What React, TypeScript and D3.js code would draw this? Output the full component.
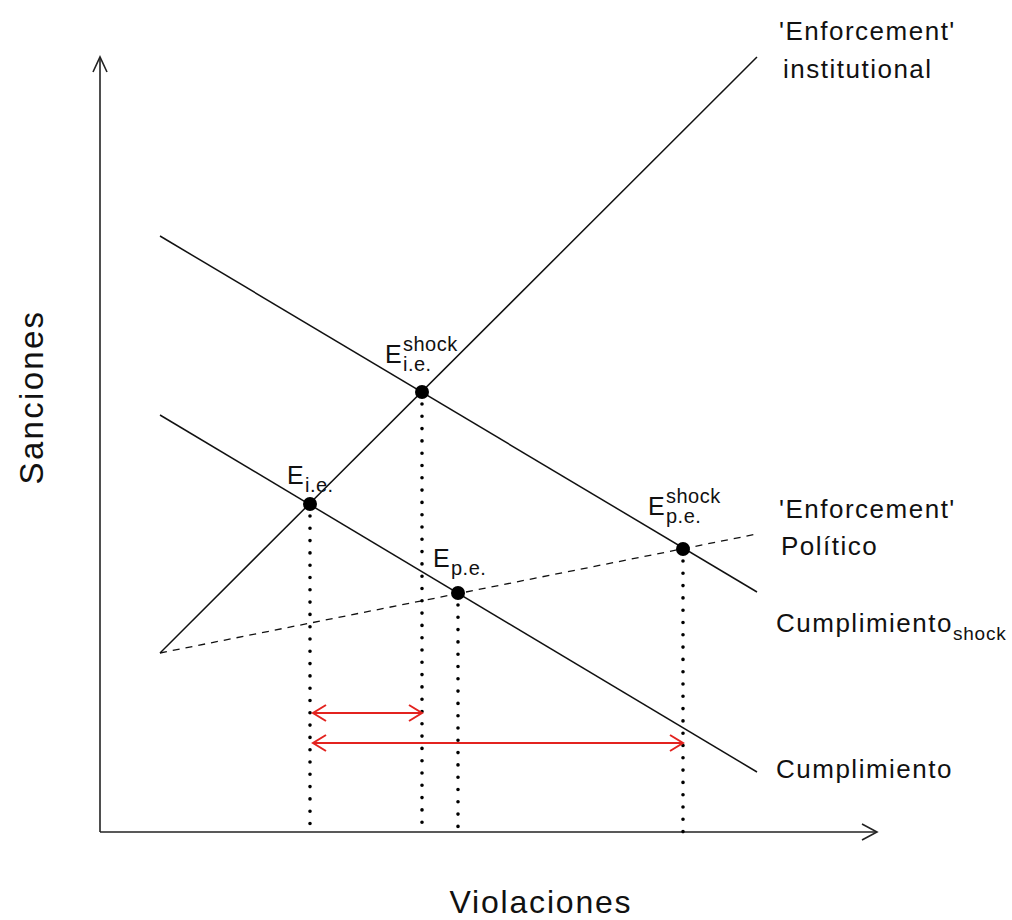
import React from "react";
import * as d3 from "d3";

// Abstract units: x = violaciones, y = sanciones
const xDomain = [0, 777];
const yDomain = [0, 774];

const institutionalLine = [[60, 179], [657, 775]];
const politicalLine = [[60, 179], [657, 298]];
const complianceShockLine = [[60, 596], [657, 240]];
const complianceLine = [[60, 417], [657, 60]];

type Eq = { id: string; x: number; y: number; sub: string; sup: string; dx: number; dy: number };
const equilibria: Eq[] = [
  { id: "ie", x: 210, y: 328, sub: "i.e.", sup: "", dx: -23, dy: -20 },
  { id: "ieShock", x: 322, y: 440, sub: "i.e.", sup: "shock", dx: -37, dy: -29 },
  { id: "pe", x: 358, y: 239, sub: "p.e.", sup: "", dx: -25, dy: -26 },
  { id: "peShock", x: 583, y: 283, sub: "p.e.", sup: "shock", dx: -35, dy: -34 },
];

const redArrows = [
  { from: 213, to: 322, y: 119 },
  { from: 213, to: 583, y: 89 },
];

const FONT = "'Liberation Sans', Arial, Helvetica, sans-serif";

export default function App() {
  const x = d3.scaleLinear().domain(xDomain).range([100, 877]);
  const y = d3.scaleLinear().domain(yDomain).range([832, 58]);
  const line = d3
    .line<number[]>()
    .x((d) => x(d[0]))
    .y((d) => y(d[1]));

  const x0 = x(0);
  const y0 = y(0);
  const xEnd = x(xDomain[1]);
  const yEnd = y(yDomain[1]) - 1;

  const red = "#e3231f";

  return (
    <svg
      width={1012}
      height={920}
      style={{ position: "absolute", left: 0, top: 0, background: "#fff" }}
      fontFamily={FONT}
    >
      {/* axes */}
      <g stroke="#222" strokeWidth={1.6} fill="none">
        <line x1={x0} y1={y0} x2={x0} y2={yEnd} />
        <line x1={x0} y1={y0} x2={xEnd} y2={y0} />
        <polyline points={`${x0 - 7},${yEnd + 15} ${x0},${yEnd} ${x0 + 7},${yEnd + 15}`} />
        <polyline points={`${xEnd - 15},${y0 - 8} ${xEnd},${y0} ${xEnd - 15},${y0 + 8}`} />
      </g>

      {/* curves */}
      <g stroke="#111" strokeWidth={1.5} fill="none">
        <path d={line(institutionalLine as any) || ""} />
        <path d={line(complianceShockLine as any) || ""} />
        <path d={line(complianceLine as any) || ""} />
        <path d={line(politicalLine as any) || ""} strokeDasharray="7 6" strokeWidth={1.3} />
      </g>

      {/* dotted verticals */}
      <g stroke="#000" strokeWidth={3.6} strokeLinecap="round" strokeDasharray="0 12.3">
        {equilibria.map((e) => (
          <line key={e.id} x1={x(e.x)} y1={y(e.y) + 12} x2={x(e.x)} y2={y0 + 2} />
        ))}
      </g>

      {/* red arrows */}
      <g stroke={red} strokeWidth={2} fill="none">
        {redArrows.map((a, i) => {
          const xa = x(a.from);
          const xb = x(a.to);
          const yy = y(a.y);
          return (
            <g key={i}>
              <line x1={xa} y1={yy} x2={xb} y2={yy} />
              <polyline points={`${xa + 13},${yy - 8} ${xa},${yy} ${xa + 13},${yy + 8}`} />
              <polyline points={`${xb - 13},${yy - 8} ${xb},${yy} ${xb - 13},${yy + 8}`} />
            </g>
          );
        })}
      </g>

      {/* equilibrium points */}
      {equilibria.map((e) => (
        <circle key={e.id} cx={x(e.x)} cy={y(e.y)} r={7} fill="#000" />
      ))}

      {/* equilibrium labels */}
      {equilibria.map((e) => {
        const lx = x(e.x) + e.dx;
        const ly = y(e.y) + e.dy;
        return (
          <g key={"l" + e.id} fill="#111">
            <text x={lx} y={ly} fontSize={25}>E</text>
            {e.sup && (
              <text x={lx + 18} y={ly - 12} fontSize={20} letterSpacing={0.5}>{e.sup}</text>
            )}
            <text x={lx + 18} y={ly + 8} fontSize={20} letterSpacing={0.5}>{e.sub}</text>
          </g>
        );
      })}

      {/* curve labels */}
      <g fill="#111" fontSize={26} letterSpacing={1.5}>
        <text x={779} y={40}>'Enforcement'</text>
        <text x={783} y={78}>institutional</text>
        <text x={779} y={518}>'Enforcement'</text>
        <text x={781} y={555}>Político</text>
        <text x={776} y={632}>
          Cumplimiento
          <tspan fontSize={19} dy={8} letterSpacing={0.8}>shock</tspan>
        </text>
        <text x={776} y={778}>Cumplimiento</text>
      </g>

      {/* axis titles */}
      <text x={541} y={913} fontSize={32} letterSpacing={1.8} textAnchor="middle" fill="#111">
        Violaciones
      </text>
      <text
        transform={`translate(43, 397) rotate(-90)`}
        fontSize={33}
        letterSpacing={2.3}
        textAnchor="middle"
        fill="#111"
      >
        Sanciones
      </text>
    </svg>
  );
}
